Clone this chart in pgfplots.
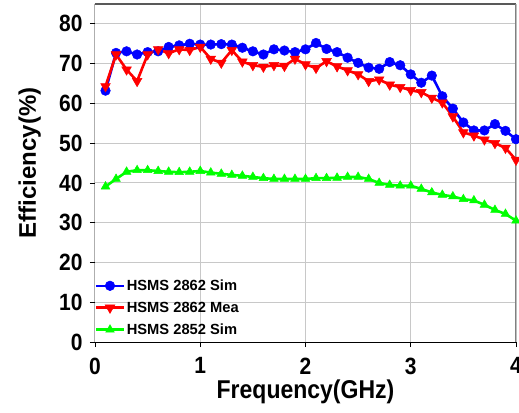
\documentclass[border=0pt]{standalone}
\usepackage{pgfplots}
\pgfplotsset{compat=1.18}
\usepackage{fontspec}
\setmainfont{Liberation Sans}
\definecolor{myblue}{RGB}{0,0,255}
\definecolor{myred}{RGB}{255,0,0}
\definecolor{mygreen}{RGB}{0,255,0}
\definecolor{gridgray}{RGB}{200,200,200}
\newcommand{\legfont}{\fontsize{14.7}{14.7}\selectfont\bfseries}
\begin{document}
\begin{tikzpicture}
\begin{axis}[name=ax,
  scale only axis, width=421pt, height=338pt,
  xmin=0, xmax=4, ymin=0, ymax=85,
  xtick={0,1,2,3,4}, ytick={0,10,...,80},
  xtick pos=bottom, ytick pos=left,
  tick align=outside, major tick length=5pt,
  tick style={black, line width=0.8pt},
  grid=major, grid style={gridgray, line width=1pt},
  axis line style={draw=none},
  /pgf/number format/assume math mode=true,
  ticklabel style={font=\fontsize{21}{21}\selectfont\bfseries, yscale=1.12},
  xticklabel style={yshift=-6pt},
  yticklabel style={xshift=-4pt},
  xlabel={Frequency(GHz)}, ylabel={Efficiency(\%)},
  xlabel style={font=\fontsize{23}{23}\selectfont\bfseries, at={(axis description cs:0.5,-0.146)}, anchor=center, yscale=1.12},
  ylabel style={font=\fontsize{24}{24}\selectfont\bfseries, at={(axis description cs:-0.155,0.53)}, anchor=center},
  legend style={at={(rel axis cs:0,0)}, anchor=south west, draw=none, fill=none,
    inner xsep=0pt, inner ysep=4pt, row sep=6pt, cells={anchor=west}},
  legend cell align=left,
  legend image code/.code={\draw[mark repeat=2,mark phase=2] plot coordinates {(0pt,0pt) (13.5pt,0pt) (27pt,0pt)};},
]
\addplot[myblue, line width=2.6pt, mark=*, mark size=4.8pt, mark options={solid, line width=0.5pt}] coordinates {
(0.1,63.2) (0.2,72.7) (0.3,73.1) (0.4,72.3) (0.5,72.9) (0.6,73.1) (0.7,74.2) (0.8,74.6) (0.9,75.0) (1.0,74.8)
(1.1,74.8) (1.2,74.9) (1.3,74.8) (1.4,74.0) (1.5,73.1) (1.6,72.3) (1.7,73.6) (1.8,73.3) (1.9,72.9) (2.0,73.6)
(2.1,75.2) (2.2,73.7) (2.3,72.9) (2.4,71.5) (2.5,70.2) (2.6,69.0) (2.7,68.7) (2.8,70.4) (2.9,69.6) (3.0,67.3)
(3.1,65.2) (3.2,67.0) (3.3,61.8) (3.4,58.7) (3.5,55.2) (3.6,53.2) (3.7,53.2) (3.8,54.8) (3.9,53.1) (4.0,51.0)
};
\addlegendentry{\legfont HSMS 2862 Sim}
\addplot[myred, line width=2.6pt, mark=triangle*, mark size=5.6pt, mark options={solid, rotate=180, line width=0.5pt}] coordinates {
(0.1,64.3) (0.2,72.3) (0.3,68.5) (0.4,65.6) (0.5,72.3) (0.6,73.6) (0.7,72.6) (0.8,73.6) (0.9,73.4) (1.0,74.2)
(1.1,71.2) (1.2,70.2) (1.3,73.4) (1.4,70.5) (1.5,69.6) (1.6,69.2) (1.7,69.6) (1.8,69.4) (1.9,71.2) (2.0,69.8)
(2.1,68.9) (2.2,70.6) (2.3,69.3) (2.4,68.3) (2.5,67.3) (2.6,65.6) (2.7,66.0) (2.8,64.7) (2.9,64.1) (3.0,63.3)
(3.1,62.8) (3.2,61.4) (3.3,60.2) (3.4,56.7) (3.5,52.7) (3.6,51.9) (3.7,50.9) (3.8,50.0) (3.9,48.8) (4.0,45.8)
};
\addlegendentry{\legfont HSMS 2862 Mea}
\addplot[mygreen, line width=2.6pt, mark=triangle*, mark size=5pt, mark options={solid, line width=0.5pt}] coordinates {
(0.1,39.1) (0.2,41.0) (0.3,42.8) (0.4,43.2) (0.5,43.2) (0.6,43.0) (0.7,42.8) (0.8,42.7) (0.9,42.8) (1.0,43.0)
(1.1,42.6) (1.2,42.3) (1.3,42.0) (1.4,41.8) (1.5,41.5) (1.6,41.2) (1.7,41.0) (1.8,41.0) (1.9,41.0) (2.0,41.0)
(2.1,41.2) (2.2,41.2) (2.3,41.3) (2.4,41.5) (2.5,41.5) (2.6,41.0) (2.7,40.0) (2.8,39.5) (2.9,39.3) (3.0,39.3)
(3.1,38.5) (3.2,37.6) (3.3,37.0) (3.4,36.6) (3.5,35.9) (3.6,35.6) (3.7,34.5) (3.8,33.2) (3.9,32.2) (4.0,30.5)
};
\addlegendentry{\legfont HSMS 2852 Sim}
\draw[gray!70!black, line width=1.5pt] (rel axis cs:0,1) -- (rel axis cs:1,1);
\draw[gray, line width=1.2pt] (rel axis cs:1,1) -- (rel axis cs:1,0);
\draw[black, line width=1pt] (rel axis cs:0,1) -- (rel axis cs:0,0) -- (rel axis cs:1,0);
\end{axis}
\pgfresetboundingbox
\path ([xshift=-95pt,yshift=-70pt]ax.south west) rectangle ([xshift=3pt,yshift=4pt]ax.north east);
\end{tikzpicture}
\end{document}
